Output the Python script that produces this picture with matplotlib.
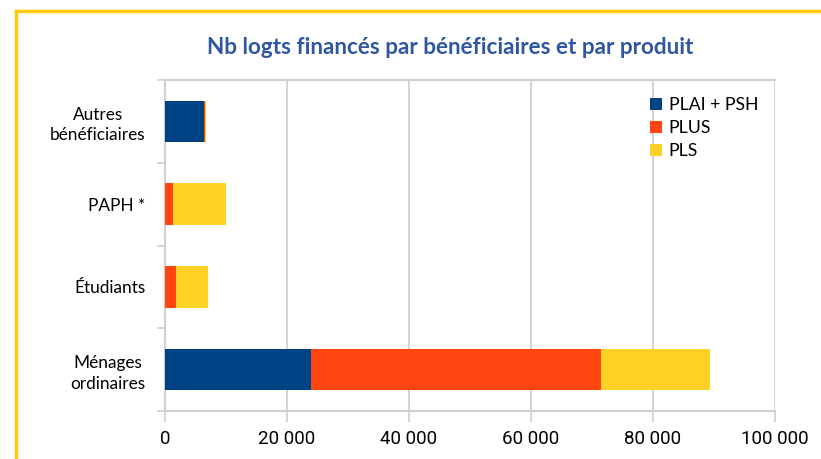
import numpy as np
import matplotlib.pyplot as plt
from matplotlib.lines import Line2D

# Données (lecture du graphique)
categories = ['Ménages\nordinaires', 'Étudiants', 'PAPH *', 'Autres\nbénéficiaires']
series = ['PLAI + PSH', 'PLUS', 'PLS']
plai_psh = [24000, 0, 0, 6400]
plus = [47500, 1800, 1300, 150]
pls = [17800, 5200, 8700, 100]
xticks = [0, 20000, 40000, 60000, 80000, 100000]
xtick_labels = ['0', '20 000', '40 000', '60 000', '80 000', '100 000']

colors = ['#004385', '#FF4611', '#FFD124']
grid_col = '#D0D0D0'

fig = plt.figure(figsize=(8.21, 4.59), dpi=100)
ax = fig.add_axes([165 / 821, 48 / 459, 610 / 821, 331 / 459])

y = np.arange(len(categories))
left = np.zeros(len(categories))
for vals, name, col in zip([plai_psh, plus, pls], series, colors):
    ax.barh(y, vals, left=left, height=0.5, color=col, label=name, zorder=3)
    left += np.array(vals)

ax.set_xlim(0, 100000)
ax.set_ylim(-0.5, 3.5)
ax.set_xticks(xticks)
ax.set_xticklabels(xtick_labels, family='Roboto', fontsize=13.5)
ax.set_yticks(np.arange(-0.5, 3.6, 1))
ax.set_yticklabels([])
ax.set_yticks(y, minor=True)
ax.set_yticklabels(categories, minor=True, family='Lato', fontsize=12.4, ha='right',
                   multialignment='center', linespacing=1.35)
ax.tick_params(axis='y', which='minor', length=0, pad=14)
ax.tick_params(axis='y', which='major', length=6, width=1.2, color=grid_col)
ax.tick_params(axis='x', length=8, width=1.2, color=grid_col, pad=6)

ax.grid(axis='x', color=grid_col, linewidth=1.3, zorder=0)
for s in ['left', 'bottom', 'top']:
    ax.spines[s].set_color(grid_col)
    ax.spines[s].set_linewidth(1.5)
ax.spines['right'].set_visible(False)

leg = ax.legend(loc='upper left', bbox_to_anchor=(643 / 821, 1 - 90 / 459), bbox_transform=fig.transFigure,
                frameon=False, prop={'family': 'Lato', 'size': 12.7}, handlelength=0.7, handleheight=0.7,
                handletextpad=0.35, labelspacing=0.4, borderaxespad=0)

fig.text(450 / 821, 1 - 48 / 459, 'Nb logts financés par bénéficiaires et par produit', ha='center', va='center',
         family='Lato', fontweight='bold', fontsize=16.2, color='#2F56A0')

# cadre doré
gold = '#FFC90E'
fig.add_artist(Line2D([16 / 821, 1], [1 - 11 / 459, 1 - 11 / 459], color=gold, linewidth=2.5, transform=fig.transFigure))
fig.add_artist(Line2D([16 / 821, 16 / 821], [0, 1 - 11 / 459], color=gold, linewidth=2.5, transform=fig.transFigure))

fig.savefig('out.png', dpi=100)
